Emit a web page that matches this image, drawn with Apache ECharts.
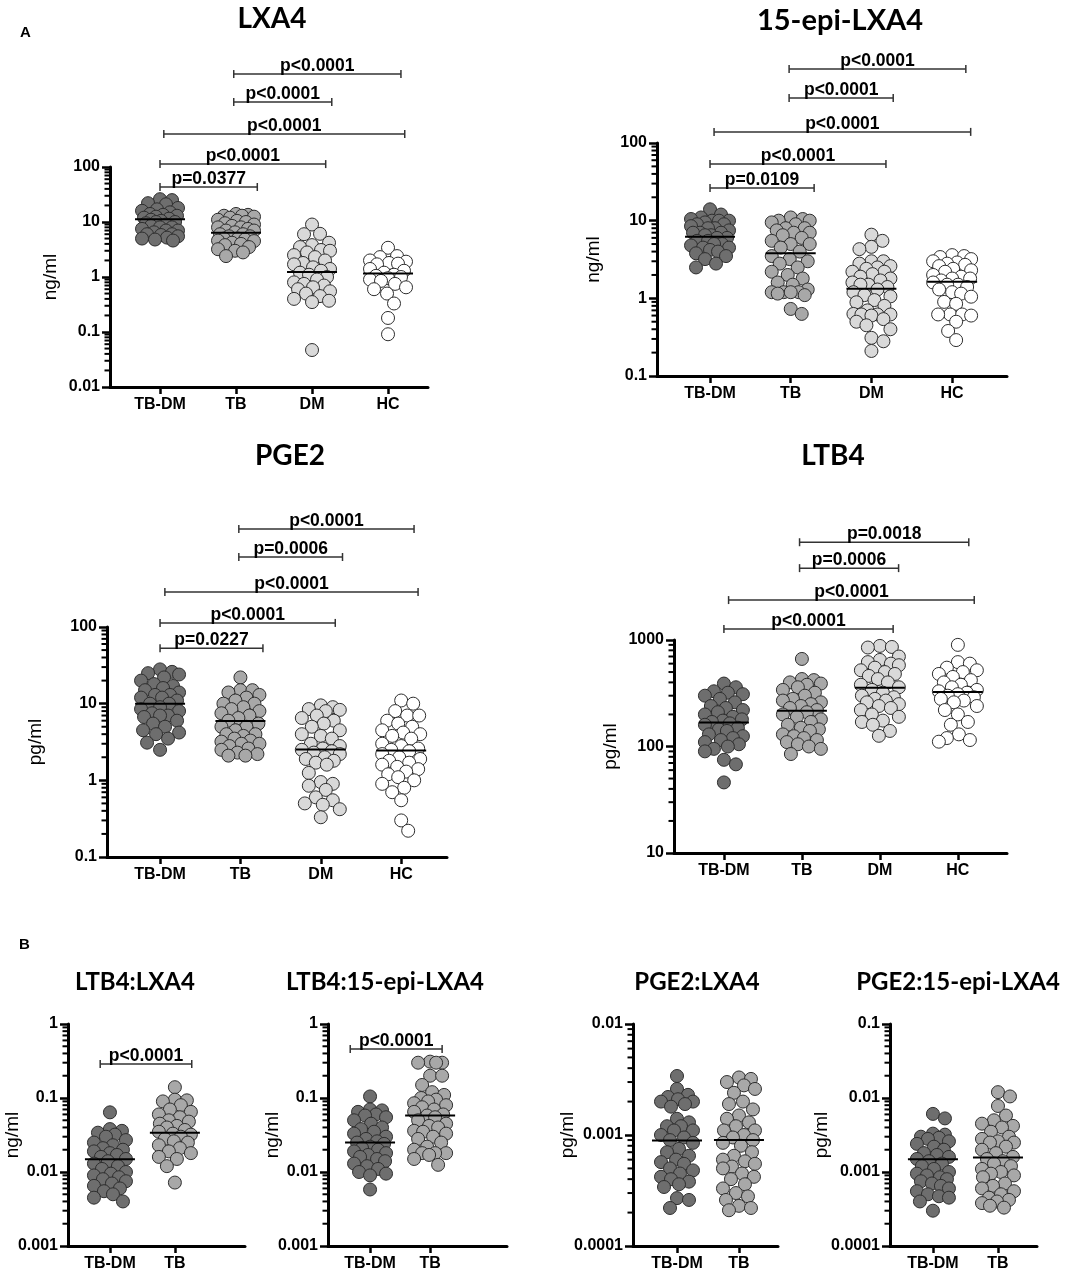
<!DOCTYPE html>
<html>
<head>
<meta charset="utf-8">
<script src="https://cdn.jsdelivr.net/npm/echarts@6/dist/echarts.min.js"></script>
<style>
html, body { margin: 0; padding: 0; background: #fff; }
#chart { width: 1084px; height: 1273px; }
</style>
</head>
<body>
<div id="chart"></div>
<script>
/* groups */
var groups4 = ['TB-DM', 'TB', 'DM', 'HC'];
var groups2 = ['TB-DM', 'TB'];

/* LXA4 (ng/ml) */
var lxa4TbDm = [26, 25, 22, 21, 18, 17, 16, 15, 14, 13.5, 13, 12.5, 12, 11.5, 11, 10.5, 10, 10, 9.5, 9, 8.5, 8, 8, 7.5, 7, 7, 6.5, 6, 6, 5.8, 5.5, 5.2, 5, 4.8, 4.6];
var lxa4Tb = [14, 13.5, 13, 13, 12.5, 12, 11, 10.5, 10, 9.5, 9, 8.5, 8, 8, 7.5, 7, 7, 6.5, 6, 6, 5.5, 5.5, 5, 5, 4.8, 4.6, 4.5, 4.2, 4, 3.8, 3.5, 3.2, 3, 2.8, 2.4];
var lxa4Dm = [9, 6.1, 6, 4.2, 3.8, 3.5, 3.1, 3, 2.8, 2.5, 2.3, 2, 1.8, 1.7, 1.5, 1.4, 1.3, 1.2, 1.1, 1, 0.9, 0.8, 0.75, 0.7, 0.65, 0.6, 0.55, 0.5, 0.45, 0.4, 0.37, 0.35, 0.047];
var lxa4Hc = [3.4, 2.4, 2.3, 2, 1.9, 1.75, 1.8, 1.7, 1.4, 1.3, 1.2, 1.1, 1.05, 1, 0.95, 0.9, 0.85, 0.75, 0.65, 0.6, 0.5, 0.33, 0.18, 0.091];
var lxa4Means = [11.2, 6.4, 1.23, 1.16];
var lxa4Ticks = ['0.01', '0.1', '1', '10', '100'];
var lxa4Stats = [[0, 1.28, 43.3], [0, 2.18, 113], [0.05, 3.22, 398], [0.97, 2.26, 1520], [0.97, 3.17, 4900]];
var lxa4StatLabels = ['p=0.0377', 'p<0.0001', 'p<0.0001', 'p<0.0001', 'p<0.0001'];

/* 15-epi-LXA4 (ng/ml) */
var epiTbDm = [14, 12, 11, 10.5, 10, 10, 10, 9.5, 9, 9, 8.5, 8, 8, 7.5, 7, 7, 7, 6.5, 6.5, 6, 6, 5.5, 5.5, 5, 5, 4.8, 4.5, 4.5, 4.2, 4, 3.8, 3.5, 3.2, 2.8, 2.5];
var epiTb = [11, 10.5, 10, 10, 9.5, 9, 8, 8, 7.5, 7, 7, 6.5, 6, 5.5, 5, 5, 4.5, 4, 3.5, 3.2, 3, 2.8, 2.5, 2.2, 2, 1.8, 1.6, 1.5, 1.3, 1.2, 1.2, 1.2, 1.2, 1.15, 1.1, 0.73, 0.63];
var epiDm = [6.6, 5.5, 4.6, 4.3, 3, 3, 2.8, 2.6, 2.5, 2.4, 2.2, 2.2, 2.05, 1.9, 1.8, 1.7, 1.6, 1.5, 1.5, 1.4, 1.3, 1.2, 1.1, 1.06, 0.95, 0.89, 0.8, 0.7, 0.63, 0.62, 0.62, 0.62, 0.6, 0.54, 0.5, 0.45, 0.4, 0.31, 0.28, 0.21];
var epiHc = [3.6, 3.5, 3.4, 3.2, 3, 2.9, 2.8, 2.7, 2.6, 2.4, 2.3, 2.2, 2, 1.9, 1.8, 1.8, 1.7, 1.6, 1.5, 1.5, 1.4, 1.3, 1.2, 1.15, 1.05, 0.9, 0.85, 0.62, 0.62, 0.62, 0.6, 0.5, 0.38, 0.29];
var epiMeans = [6.2, 3.8, 1.33, 1.63];
var epiTicks = ['0.1', '1', '10', '100'];
var epiStats = [[0, 1.29, 26.4], [0, 2.18, 53.7], [0.05, 3.23, 139], [0.98, 2.27, 379], [0.98, 3.17, 898]];
var epiStatLabels = ['p=0.0109', 'p<0.0001', 'p<0.0001', 'p<0.0001', 'p<0.0001'];

/* PGE2 (pg/ml) */
var pge2TbDm = [28, 26, 25, 24, 22, 20, 18, 17, 16, 15, 14, 13, 13, 12, 12, 11, 10, 10, 9, 8.5, 8, 7.5, 7, 7, 6.7, 6, 5.5, 5, 4.5, 4.2, 4, 3.5, 3.1, 2.5];
var pge2Tb = [22, 15, 15, 14, 13, 12, 11, 10, 10, 9, 8.5, 8, 7.5, 7, 6.5, 6, 5.5, 5, 5, 4.5, 4, 4, 3.8, 3.5, 3.3, 3.2, 3, 3, 2.8, 2.6, 2.5, 2.3, 2.2, 2.1, 2.1];
var pge2Dm = [9.5, 9, 8.5, 8.3, 8, 7, 6.5, 6, 5.5, 5, 4.5, 4, 3.8, 3.5, 3, 2.8, 2.6, 2.5, 2.4, 2.3, 2.2, 2, 1.9, 1.8, 1.7, 1.6, 1.25, 0.95, 0.9, 0.85, 0.75, 0.6, 0.55, 0.5, 0.48, 0.42, 0.33];
var pge2Hc = [11, 10, 8, 7, 7, 6, 5.5, 5, 4.5, 4.2, 4, 3.8, 3.5, 3, 2.8, 2.6, 2.5, 2.4, 2.2, 2, 1.9, 1.8, 1.7, 1.6, 1.5, 1.4, 1.3, 1.2, 1.1, 1, 0.9, 0.8, 0.7, 0.55, 0.3, 0.22];
var pge2Means = [10, 5.95, 2.52, 2.45];
var pge2Ticks = ['0.1', '1', '10', '100'];
var pge2Stats = [[0, 1.28, 53], [0, 2.18, 113], [0.06, 3.21, 286], [0.98, 2.27, 818], [0.98, 3.16, 1897]];
var pge2StatLabels = ['p=0.0227', 'p<0.0001', 'p<0.0001', 'p=0.0006', 'p<0.0001'];

/* LTB4 (pg/ml) */
var ltb4TbDm = [390, 360, 330, 320, 310, 300, 280, 260, 240, 230, 220, 210, 200, 190, 180, 175, 170, 165, 160, 150, 145, 140, 130, 125, 120, 115, 110, 105, 100, 95, 90, 75, 68, 46];
var ltb4Tb = [664, 430, 420, 400, 390, 380, 360, 340, 320, 300, 280, 270, 260, 250, 240, 230, 220, 210, 200, 190, 180, 170, 160, 150, 145, 140, 130, 125, 120, 115, 110, 105, 100, 95, 85];
var ltb4Dm = [880, 860, 850, 700, 650, 620, 600, 580, 550, 520, 500, 480, 460, 430, 400, 380, 360, 340, 320, 300, 290, 280, 270, 260, 250, 240, 230, 220, 200, 190, 175, 170, 160, 140, 126];
var ltb4Hc = [900, 620, 600, 550, 520, 500, 480, 450, 420, 400, 380, 360, 340, 330, 320, 310, 300, 290, 280, 270, 260, 240, 220, 200, 170, 160, 130, 120, 115, 111];
var ltb4Means = [168, 217, 357, 325];
var ltb4Ticks = ['10', '100', '1000'];
var ltb4Stats = [[0, 2.17, 1268], [0.06, 3.21, 2371], [0.97, 2.24, 4730], [0.97, 3.14, 8280]];
var ltb4StatLabels = ['p<0.0001', 'p<0.0001', 'p=0.0006', 'p=0.0018'];

/* LTB4:LXA4 */
var ltb4LxaTbDm = [0.064, 0.038, 0.036, 0.034, 0.032, 0.03, 0.027, 0.025, 0.023, 0.021, 0.02, 0.019, 0.018, 0.017, 0.016, 0.015, 0.014, 0.013, 0.012, 0.011, 0.01, 0.0095, 0.009, 0.0085, 0.008, 0.0075, 0.007, 0.0065, 0.006, 0.0055, 0.005, 0.0045, 0.004];
var ltb4LxaTb = [0.14, 0.095, 0.093, 0.09, 0.08, 0.07, 0.065, 0.06, 0.055, 0.05, 0.048, 0.045, 0.042, 0.04, 0.037, 0.035, 0.033, 0.032, 0.03, 0.028, 0.026, 0.025, 0.023, 0.021, 0.019, 0.018, 0.016, 0.015, 0.012, 0.0072];
var ltb4LxaMeans = [0.0149, 0.034];
var ltb4LxaTicks = ['0.001', '0.01', '0.1', '1'];
var ltb4LxaStats = [[-0.15, 1.26, 0.288]];
var ltb4LxaStatLabels = ['p<0.0001'];

/* LTB4:15-epi-LXA4 */
var ltb4EpiTbDm = [0.105, 0.07, 0.068, 0.065, 0.06, 0.058, 0.055, 0.05, 0.045, 0.04, 0.038, 0.035, 0.033, 0.03, 0.028, 0.026, 0.025, 0.024, 0.022, 0.021, 0.02, 0.019, 0.018, 0.017, 0.016, 0.015, 0.014, 0.013, 0.012, 0.011, 0.01, 0.0095, 0.009, 0.0058];
var ltb4EpiTb = [0.31, 0.3, 0.3, 0.3, 0.2, 0.2, 0.15, 0.12, 0.11, 0.1, 0.095, 0.09, 0.085, 0.08, 0.075, 0.07, 0.065, 0.06, 0.058, 0.055, 0.05, 0.045, 0.042, 0.04, 0.036, 0.035, 0.033, 0.03, 0.028, 0.025, 0.022, 0.02, 0.018, 0.018, 0.018, 0.017, 0.015, 0.0125];
var ltb4EpiMeans = [0.025, 0.058];
var ltb4EpiTicks = ['0.001', '0.01', '0.1', '1'];
var ltb4EpiStats = [[-0.33, 1.2, 0.459]];
var ltb4EpiStatLabels = ['p<0.0001'];

/* PGE2:LXA4 */
var pge2LxaTbDm = [0.0034, 0.0026, 0.0023, 0.0022, 0.0021, 0.002, 0.002, 0.0019, 0.0018, 0.0014, 0.0013, 0.0012, 0.0012, 0.0011, 0.0011, 0.001, 0.00095, 0.0009, 0.00085, 0.00075, 0.0007, 0.00065, 0.0006, 0.00057, 0.00055, 0.0005, 0.00048, 0.00045, 0.00042, 0.0004, 0.00038, 0.00036, 0.00034, 0.00027, 0.00026, 0.00022];
var pge2LxaTb = [0.0033, 0.0032, 0.003, 0.0028, 0.0026, 0.0024, 0.002, 0.0019, 0.0017, 0.0015, 0.0014, 0.0013, 0.0012, 0.0011, 0.0011, 0.001, 0.00095, 0.0009, 0.00085, 0.0008, 0.0007, 0.00065, 0.0006, 0.00058, 0.00055, 0.00052, 0.0005, 0.00045, 0.00042, 0.0004, 0.00036, 0.00033, 0.0003, 0.00028, 0.00026, 0.00023, 0.00022, 0.00021];
var pge2LxaMeans = [0.00089, 0.0009];
var pge2LxaTicks = ['0.0001', '0.001', '0.01'];

/* PGE2:15-epi-LXA4 */
var pge2EpiTbDm = [0.0061, 0.0053, 0.0033, 0.0032, 0.003, 0.0029, 0.0028, 0.0026, 0.0024, 0.0022, 0.002, 0.0018, 0.0017, 0.0016, 0.0015, 0.0014, 0.0013, 0.0012, 0.0011, 0.001, 0.00095, 0.0009, 0.00085, 0.0008, 0.00075, 0.0007, 0.00065, 0.0006, 0.00055, 0.0005, 0.00047, 0.00045, 0.0004, 0.0003];
var pge2EpiTb = [0.012, 0.0105, 0.0078, 0.0058, 0.005, 0.0045, 0.0042, 0.004, 0.0035, 0.003, 0.0028, 0.0026, 0.0025, 0.0025, 0.0022, 0.002, 0.0018, 0.0016, 0.0015, 0.0014, 0.0013, 0.0012, 0.0011, 0.001, 0.00095, 0.0009, 0.00085, 0.0007, 0.00065, 0.0006, 0.00055, 0.0005, 0.00045, 0.00042, 0.0004, 0.00038, 0.00035, 0.00033];
var pge2EpiMeans = [0.00149, 0.00157];
var pge2EpiTicks = ['0.0001', '0.001', '0.01', '0.1'];

/* styles */
var FONT = 'Liberation Sans, Arial, sans-serif';
var TITLE_FONT = 'Lato, Open Sans, sans-serif';
var fills = ['#6e6e6e', '#a8a8a8', '#d9d9d9', '#ffffff'];

/* panel layout (pixels) */
var panels = [
	{title: 'LXA4', cats: groups4, data: [lxa4TbDm, lxa4Tb, lxa4Dm, lxa4Hc], means: lxa4Means, ticks: lxa4Ticks, unit: 'ng/ml',
		stats: lxa4Stats, statLabels: lxa4StatLabels,
		left: 110, top: 167, width: 318, height: 220, xMin: -0.658, xMax: 3.526, titleX: 272, titleY: 5, titleSize: 28, nameGap: 50, half: 18},
	{title: '15-epi-LXA4', cats: groups4, data: [epiTbDm, epiTb, epiDm, epiHc], means: epiMeans, ticks: epiTicks, unit: 'ng/ml',
		stats: epiStats, statLabels: epiStatLabels,
		left: 657, top: 143, width: 350, height: 233, xMin: -0.657, xMax: 3.68, titleX: 840, titleY: 6, titleSize: 29, nameGap: 54, half: 19},
	{title: 'PGE2', cats: groups4, data: [pge2TbDm, pge2Tb, pge2Dm, pge2Hc], means: pge2Means, ticks: pge2Ticks, unit: 'pg/ml',
		stats: pge2Stats, statLabels: pge2StatLabels,
		left: 107, top: 627, width: 340, height: 230, xMin: -0.66, xMax: 3.57, titleX: 290, titleY: 442, titleSize: 28, nameGap: 62, half: 19},
	{title: 'LTB4', cats: groups4, data: [ltb4TbDm, ltb4Tb, ltb4Dm, ltb4Hc], means: ltb4Means, ticks: ltb4Ticks, unit: 'pg/ml',
		stats: ltb4Stats, statLabels: ltb4StatLabels,
		left: 674, top: 640, width: 333, height: 213, xMin: -0.64, xMax: 3.63, titleX: 833, titleY: 442, titleSize: 28, nameGap: 54, half: 19},
	{title: 'LTB4:LXA4', cats: groups2, data: [ltb4LxaTbDm, ltb4LxaTb], means: ltb4LxaMeans, ticks: ltb4LxaTicks, unit: 'ng/ml',
		stats: ltb4LxaStats, statLabels: ltb4LxaStatLabels,
		left: 68, top: 1024, width: 177, height: 222, xMin: -0.646, xMax: 2.08, titleX: 135, titleY: 970, titleSize: 24, nameGap: 46, half: 16},
	{title: 'LTB4:15-epi-LXA4', cats: groups2, data: [ltb4EpiTbDm, ltb4EpiTb], means: ltb4EpiMeans, ticks: ltb4EpiTicks, unit: 'ng/ml',
		stats: ltb4EpiStats, statLabels: ltb4EpiStatLabels,
		left: 328, top: 1024, width: 179, height: 222, xMin: -0.7, xMax: 2.28, titleX: 385, titleY: 970, titleSize: 24, nameGap: 46, half: 16},
	{title: 'PGE2:LXA4', cats: groups2, data: [pge2LxaTbDm, pge2LxaTb], means: pge2LxaMeans, ticks: pge2LxaTicks, unit: 'pg/ml',
		stats: [], statLabels: [],
		left: 633, top: 1024, width: 145, height: 222, xMin: -0.71, xMax: 1.63, titleX: 697, titleY: 970, titleSize: 24, nameGap: 56, half: 16},
	{title: 'PGE2:15-epi-LXA4', cats: groups2, data: [pge2EpiTbDm, pge2EpiTb], means: pge2EpiMeans, ticks: pge2EpiTicks, unit: 'pg/ml',
		stats: [], statLabels: [],
		left: 890, top: 1024, width: 147, height: 222, xMin: -0.66, xMax: 1.6, titleX: 958, titleY: 970, titleSize: 24, nameGap: 59, half: 16}
];

/* spread the dots of one group sideways so they overlap as little as possible (like a dot plot) */
function swarm(values, center, p) {
	var logMin = Math.log10(+p.ticks[0]), logMax = Math.log10(+p.ticks[p.ticks.length - 1]);
	var pxPerUnit = p.width / (p.xMax - p.xMin);
	var gap = 12;
	var pts = values.map(function (v) {
		return {v: v, py: p.top + p.height * (logMax - Math.log10(v)) / (logMax - logMin)};
	});
	pts.sort(function (a, b) { return a.py - b.py; });
	var cands = [0];
	for (var k = 1; k <= p.half; k++) cands.push(k, -k);
	var placed = [];
	pts.forEach(function (pt) {
		var best = 0, bestD = -1;
		for (var i = 0; i < cands.length; i++) {
			var cx = cands[i], dmin = Infinity;
			for (var j = 0; j < placed.length; j++) {
				var d = Math.sqrt(Math.pow(placed[j].px - cx, 2) + Math.pow(placed[j].py - pt.py, 2));
				if (d < dmin) dmin = d;
			}
			if (dmin >= gap) { best = cx; break; }
			if (dmin > bestD) { bestD = dmin; best = cx; }
		}
		pt.px = best;
		placed.push(pt);
	});
	return placed.map(function (pt) { return [center + pt.px / pxPerUnit, pt.v]; });
}

function tickLabel(ticks) {
	return function (v) {
		var l = Math.round(Math.log10(v));
		for (var i = 0; i < ticks.length; i++) {
			if (Math.round(Math.log10(+ticks[i])) === l) return ticks[i];
		}
		return '';
	};
}

var option = {
	animation: false,
	backgroundColor: '#ffffff',
	textStyle: {fontFamily: FONT},
	title: [],
	grid: [],
	xAxis: [],
	yAxis: [],
	series: [],
	graphic: [
		{type: 'text', left: 20, top: 25, style: {text: 'A', font: 'bold 15px ' + FONT, fill: '#000'}},
		{type: 'text', left: 19, top: 937, style: {text: 'B', font: 'bold 15px ' + FONT, fill: '#000'}}
	]
};

panels.forEach(function (p, gi) {
	var idx = p.cats.map(function (c, i) { return i; });
	option.title.push({
		text: p.title, left: p.titleX, top: p.titleY, textAlign: 'center', padding: 0,
		textStyle: {fontFamily: TITLE_FONT, fontWeight: 'bold', fontSize: p.titleSize, color: '#000'}
	});
	option.grid.push({left: p.left, top: p.top, width: p.width, height: p.height, containLabel: false, outerBoundsMode: 'none'});
	option.xAxis.push({
		gridIndex: gi, type: 'value', min: p.xMin, max: p.xMax,
		axisLine: {show: true, onZero: false, lineStyle: {color: '#000', width: 3}},
		axisTick: {show: true, customValues: idx, length: 7, lineStyle: {color: '#000', width: 2.5}},
		axisLabel: {
			show: true, customValues: idx, margin: 10, color: '#000', fontSize: 16, fontWeight: 'bold', fontFamily: FONT,
			formatter: function (v) { return p.cats[Math.round(v)]; }
		},
		splitLine: {show: false}
	});
	option.yAxis.push({
		gridIndex: gi, type: 'log', logBase: 10, min: +p.ticks[0], max: +p.ticks[p.ticks.length - 1],
		axisLine: {show: true, onZero: false, lineStyle: {color: '#000', width: 3}},
		axisTick: {show: true, length: 8, lineStyle: {color: '#000', width: 2.5}},
		axisLabel: {color: '#000', fontSize: 16, fontWeight: 'bold', fontFamily: FONT, margin: 10, formatter: tickLabel(p.ticks)},
		splitLine: {show: false},
		name: p.unit, nameLocation: 'middle', nameGap: p.nameGap, nameMoveOverlap: false,
		nameTextStyle: {color: '#000', fontSize: 19, fontFamily: FONT}
	});

	// minor ticks at 2..9 of every decade, drawn with the mean lines
	var minor = [];
	for (var t = 0; t < p.ticks.length - 1; t++) {
		for (var m = 2; m <= 9; m++) minor.push(m * +p.ticks[t]);
	}

	// dots
	p.data.forEach(function (vals, ci) {
		option.series.push({
			type: 'scatter', xAxisIndex: gi, yAxisIndex: gi, symbol: 'circle', symbolSize: 13, z: 3,
			itemStyle: {color: fills[ci], borderColor: '#2e2e2e', borderWidth: 1, opacity: 1},
			data: swarm(vals, ci, p)
		});
	});

	// mean lines (+ minor ticks)
	option.series.push({
		type: 'custom', xAxisIndex: gi, yAxisIndex: gi, clip: false, silent: true, z: 4,
		data: p.means.map(function (v, i) { return [i, v]; }),
		renderItem: function (params, api) {
			var c = api.coord([api.value(0), api.value(1)]);
			var kids = [{type: 'line', shape: {x1: c[0] - 25, y1: c[1], x2: c[0] + 25, y2: c[1]}, style: {stroke: '#000', lineWidth: 2}}];
			if (params.dataIndex === 0) {
				minor.forEach(function (v) {
					var q = api.coord([p.xMin, v]);
					kids.push({type: 'line', shape: {x1: q[0] - 5.5, y1: q[1], x2: q[0], y2: q[1]}, style: {stroke: '#000', lineWidth: 2}});
				});
			}
			return {type: 'group', children: kids};
		}
	});

	// comparison brackets with p values
	if (p.stats.length) {
		option.series.push({
			type: 'custom', xAxisIndex: gi, yAxisIndex: gi, clip: false, silent: true, z: 6,
			encode: {x: [0, 1], y: 2},
			data: p.stats,
			renderItem: function (params, api) {
				var a = api.coord([api.value(0), api.value(2)]);
				var b = api.coord([api.value(1), api.value(2)]);
				var cap = 4;
				var st = {stroke: '#333', lineWidth: 1.5};
				return {
					type: 'group',
					children: [
						{type: 'line', shape: {x1: a[0], y1: a[1], x2: b[0], y2: b[1]}, style: st},
						{type: 'line', shape: {x1: a[0], y1: a[1] - cap, x2: a[0], y2: a[1] + cap}, style: st},
						{type: 'line', shape: {x1: b[0], y1: b[1] - cap, x2: b[0], y2: b[1] + cap}, style: st},
						{type: 'text', x: (a[0] + b[0]) / 2, y: a[1] + 1, style: {
							text: p.statLabels[params.dataIndex], fill: '#000', font: 'bold 17.5px ' + FONT,
							align: 'center', verticalAlign: 'bottom'
						}}
					]
				};
			}
		});
	}
});

var chart = echarts.init(document.getElementById('chart'));
chart.setOption(option);
</script>
</body>
</html>
